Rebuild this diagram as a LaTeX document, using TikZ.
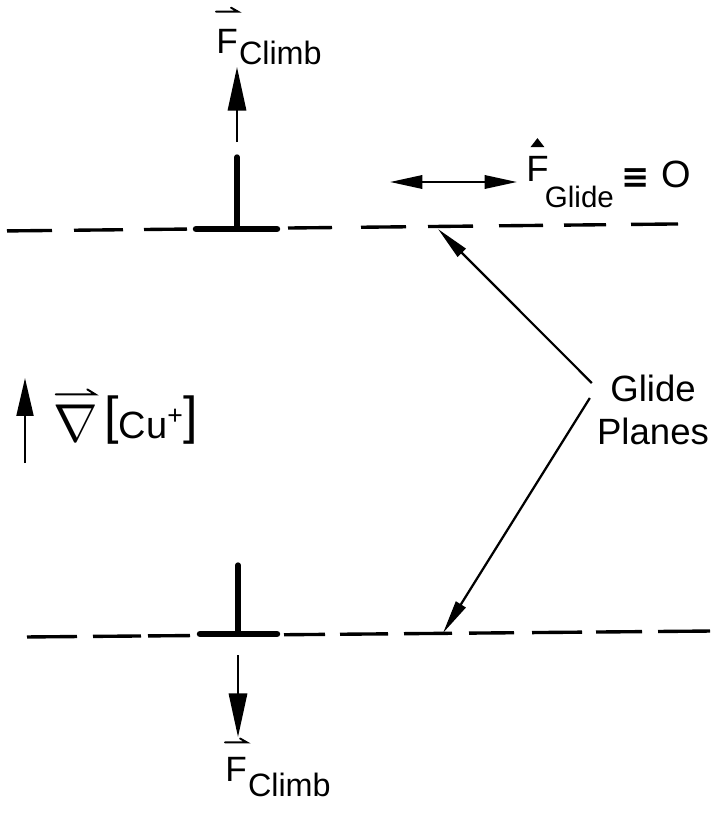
\RequirePackage{fix-cm}
\documentclass[tikz,border=0pt]{standalone}
\usepackage{fontspec}
\setmainfont{Liberation Sans}
\newfontfamily\symfont{DejaVu Sans}
\usetikzlibrary{arrows.meta,positioning}
\newcommand\fsz[1]{\fontsize{#1}{#1}\selectfont}

\begin{document}
\begin{tikzpicture}[x=0.025cm, y=-0.025cm,
    planedash/.style={line width=2.4pt},
    dislbar/.style={line width=4.6pt, line cap=round},
    dislstem/.style={line width=3.8pt, line cap=round},
    climbarrow/.style={line width=1.7pt, -{Triangle[length=31pt,width=13pt]}},
    gradarrow/.style={line width=1.7pt, -{Triangle[length=27pt,width=12pt]}},
    glidearrow/.style={line width=1.6pt, {Triangle[length=23pt,width=9.5pt]}-{Triangle[length=23pt,width=9.5pt]}},
    leadarrow/.style={line width=1.6pt, -{Triangle[length=24pt,width=8pt]}},
    lbl/.style={inner sep=0pt, anchor=base west},
    vecmark/.style={line width=1.4pt, line cap=round}]
        \useasboundingbox (0,0) rectangle (716,815);

        \foreach \a/\b in {7/52,74/123,144/187,288/332,361/406,428/473,499/543,564/606,631/678}
            \draw[planedash] (\a,{231-0.0104*\a}) -- (\b,{231-0.0104*\b});
        \foreach \a/\b in {27/77,93/141,148/190,284/325,340/388,404/452,469/514,532/582,596/642,658/710}
            \draw[planedash] (\a,{637.2-0.0087*\a}) -- (\b,{637.2-0.0087*\b});

        \coordinate (coreU) at (237,229);
        \coordinate (coreL) at (238,634);
        \draw[dislstem] (coreU) -- (237,157);
        \draw[dislbar] (196,229) -- (277,229);
        \draw[dislstem] (coreL) -- (238,565);
        \draw[dislbar] (200,634) -- (277,634);

        \node[lbl, font=\fsz{25}] (fU) at (216,53) {F};
        \node[lbl, font=\fsz{23}] (climbU) at ([xshift=0.5pt,yshift=-8pt]fU.base east) {Climb};
        \draw[vecmark] ([yshift=12pt]fU.north west) -- ([yshift=12pt]fU.north east) -- ++(-7,-4);
        \node[lbl, font=\fsz{25}] (fL) at (225,781) {F};
        \node[lbl, font=\fsz{23}] (climbL) at ([xshift=0.5pt,yshift=-11pt]fL.base east) {Climb};
        \draw[vecmark] ([yshift=10pt]fL.north west) -- ([yshift=10pt]fL.north east) -- ++(-7,-4);

        \coordinate (upTail) at (237,142);
        \coordinate (upTip) at (237,67);
        \coordinate (dnTail) at (238,655);
        \coordinate (dnTip) at (238,737);
        \draw[climbarrow] (upTail) -- (upTip);
        \draw[climbarrow] (dnTail) -- (dnTip);

        \node[lbl, font=\fsz{26}] (fG) at (526,181) {F};
        \node[lbl, font=\fsz{21}] (glideSub) at ([xshift=-3pt,yshift=-19pt]fG.base east) {Glide};
        \fill ([yshift=6pt]fG.north) +(-7,0) -- +(0,-9) -- +(7,0) -- cycle;
        \node[lbl, font=\symfont\bfseries\fsz{24}] (eqv) at (621,188) {≡};
        \node[lbl, font=\fsz{27}] (zero) at (661,187) {O};
        \coordinate (glL) at (390,182);
        \coordinate (glR) at (517,182);
        \draw[glidearrow] (glL) -- (glR);

        \coordinate (gradTail) at (25,463);
        \coordinate (gradTip) at (25,378);
        \draw[gradarrow] (gradTail) -- (gradTip);
        \node[lbl, font=\fsz{38}] (nabla) at (53,441) {$\nabla$};
        \draw[vecmark] ([xshift=2pt,yshift=7pt]nabla.north west) -- ([xshift=-2pt,yshift=7pt]nabla.north east) -- ++(-8,-5);
        \node[lbl, font=\fsz{27}] (cu) at (104,438) {\raisebox{3pt}{\fsz{37}[}Cu\textsuperscript{+}\raisebox{3pt}{\fsz{37}]}};

        \node[inner sep=0pt, align=center, font=\fontsize{26}{30.5}\selectfont] (gp) at (653,410) {Glide\\Planes};
        \coordinate (gpTop) at (438,229);
        \coordinate (gpBot) at (443,633);
        \draw[leadarrow] ([shift={(-5,-27)}]gp.west) -- (gpTop);
        \draw[leadarrow] ([shift={(-7,-12)}]gp.west) -- (gpBot);
    \end{tikzpicture}
\end{document}
